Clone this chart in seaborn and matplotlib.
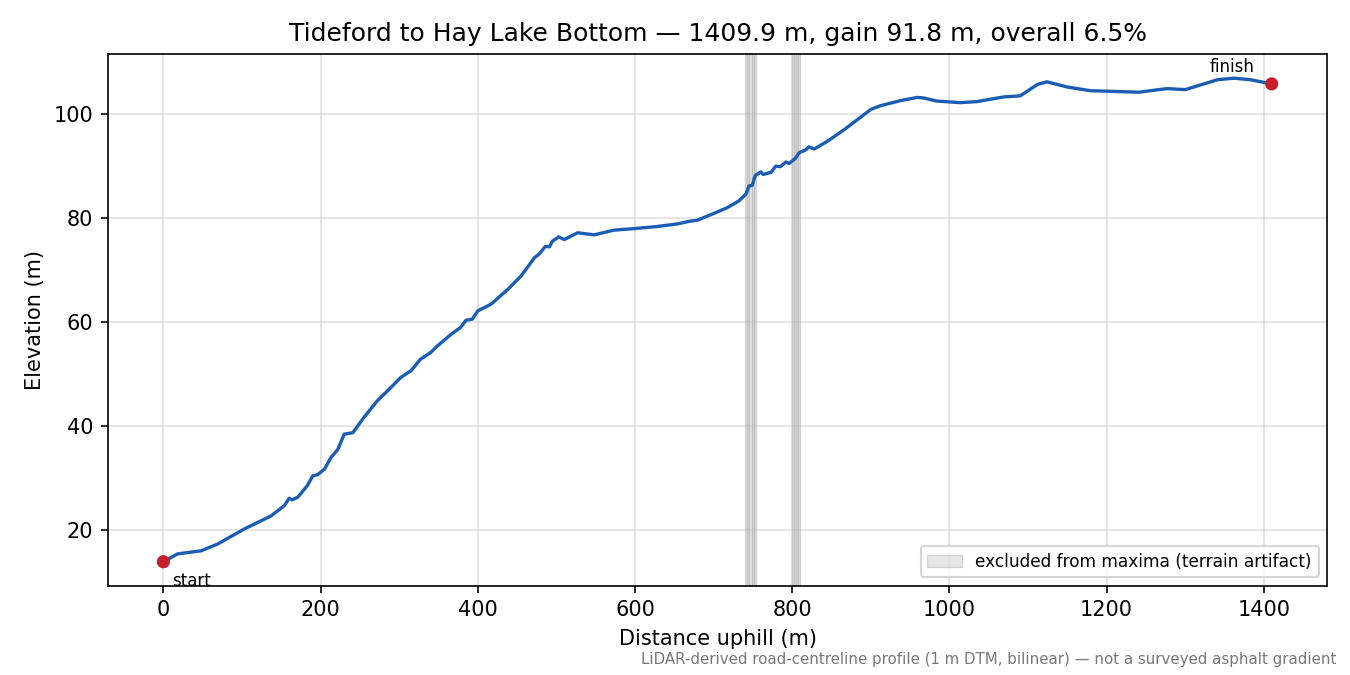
import numpy as np
import pandas as pd
import matplotlib
matplotlib.use('Agg')
import matplotlib.pyplot as plt
import seaborn as sns

# profile (distance m, elevation m)
distance = [0, 18, 48, 69, 103, 137, 154, 160, 164, 171, 183, 190, 196, 205, 213,
            222, 230, 241, 255, 272, 285, 302, 315, 327, 340, 349, 366, 378, 385,
            393, 400, 408, 417, 438, 455, 472, 478, 486, 491, 495, 503, 510, 527,
            548, 573, 599, 628, 654, 669, 679, 700, 717, 732, 741, 745, 749, 753,
            760, 763, 773, 779, 785, 792, 796, 804, 809, 817, 821, 828, 845, 866,
            900, 912, 938, 959, 967, 984, 1014, 1035, 1069, 1090, 1099, 1112,
            1124, 1129, 1150, 1179, 1222, 1241, 1256, 1277, 1300, 1328, 1341,
            1362, 1383, 1409.9]
elevation = [13.9, 15.4, 16.0, 17.3, 20.2, 22.7, 24.7, 26.1, 25.8, 26.3, 28.5, 30.4,
             30.6, 31.7, 33.9, 35.5, 38.4, 38.7, 41.6, 44.8, 46.7, 49.3, 50.6, 52.8,
             54.1, 55.4, 57.6, 58.9, 60.3, 60.5, 62.1, 62.7, 63.4, 66.2, 68.8, 72.3,
             73.0, 74.5, 74.4, 75.5, 76.3, 75.8, 77.1, 76.7, 77.6, 77.9, 78.3, 78.8,
             79.3, 79.5, 80.8, 81.9, 83.2, 84.5, 86.1, 86.2, 88.1, 88.8, 88.3, 88.7,
             89.9, 89.8, 90.7, 90.4, 91.4, 92.5, 93.0, 93.6, 93.2, 94.7, 96.9, 100.8,
             101.5, 102.5, 103.1, 103.0, 102.4, 102.1, 102.3, 103.2, 103.4, 104.3,
             105.6, 106.1, 105.9, 105.1, 104.4, 104.2, 104.1, 104.4, 104.8, 104.6,
             105.9, 106.5, 106.8, 106.5, 105.7]

# excluded stretches (terrain artifact)
excl_lo = [740.0, 742.8, 745.6, 748.4, 751.2, 799.5, 802.3, 805.1, 807.9]
excl_hi = [742.8, 745.6, 748.4, 751.2, 753.5, 802.3, 805.1, 807.9, 810.5]

title = 'Tideford to Hay Lake Bottom \u2014 1409.9 m, gain 91.8 m, overall 6.5%'
note = 'LiDAR-derived road-centreline profile (1 m DTM, bilinear) \u2014 not a surveyed asphalt gradient'

sns.set_style('ticks')
plt.rcParams['font.family'] = ['DejaVu Sans']
plt.rcParams.update({'text.color': 'black', 'axes.labelcolor': 'black',
                     'xtick.color': 'black', 'ytick.color': 'black',
                     'axes.edgecolor': 'black'})

df = pd.DataFrame({'distance': distance, 'elevation': elevation})
ends = df.iloc[[0, -1]]

fig, ax = plt.subplots(figsize=(9, 4.5), dpi=150)
fig.subplots_adjust(left=0.08, right=0.983, top=0.92, bottom=0.132)

for i, (lo, hi) in enumerate(zip(excl_lo, excl_hi)):
    ax.axvspan(lo, hi, facecolor='#c8c8c8', edgecolor='#a8a8a8', alpha=0.45, lw=0.6,
               label='excluded from maxima (terrain artifact)' if i == 0 else None)

sns.lineplot(data=df, x='distance', y='elevation', ax=ax, color='#1a5db4',
             linewidth=1.6, zorder=3)
sns.scatterplot(data=ends, x='distance', y='elevation', ax=ax, color='#c41f2b',
                s=40, edgecolor='none', zorder=4)

ax.annotate('start', (distance[0], elevation[0]), xytext=(4, -5),
            textcoords='offset points', ha='left', va='top', fontsize=8)
ax.annotate('finish', (distance[-1], elevation[-1]), xytext=(-8, 4),
            textcoords='offset points', ha='right', va='bottom', fontsize=8)

ax.margins(x=0.05, y=0.05)
ax.grid(True, color='#cccccc', alpha=0.6, linewidth=0.8)
ax.tick_params(labelsize=10, length=3.5, width=0.8)
for s in ax.spines.values():
    s.set_visible(True)
    s.set_linewidth(0.8)
ax.set_xlabel('Distance uphill (m)', fontsize=10)
ax.set_ylabel('Elevation (m)', fontsize=10)
ax.set_title(title, fontsize=12)
ax.set_yticks([20, 40, 60, 80, 100])
ax.legend(loc='lower right', fontsize=8.2, frameon=True)

fig.text(0.99, 0.012, note, ha='right', va='bottom', fontsize=7.2, color='#777777')

fig.savefig('out.png', dpi=150)
